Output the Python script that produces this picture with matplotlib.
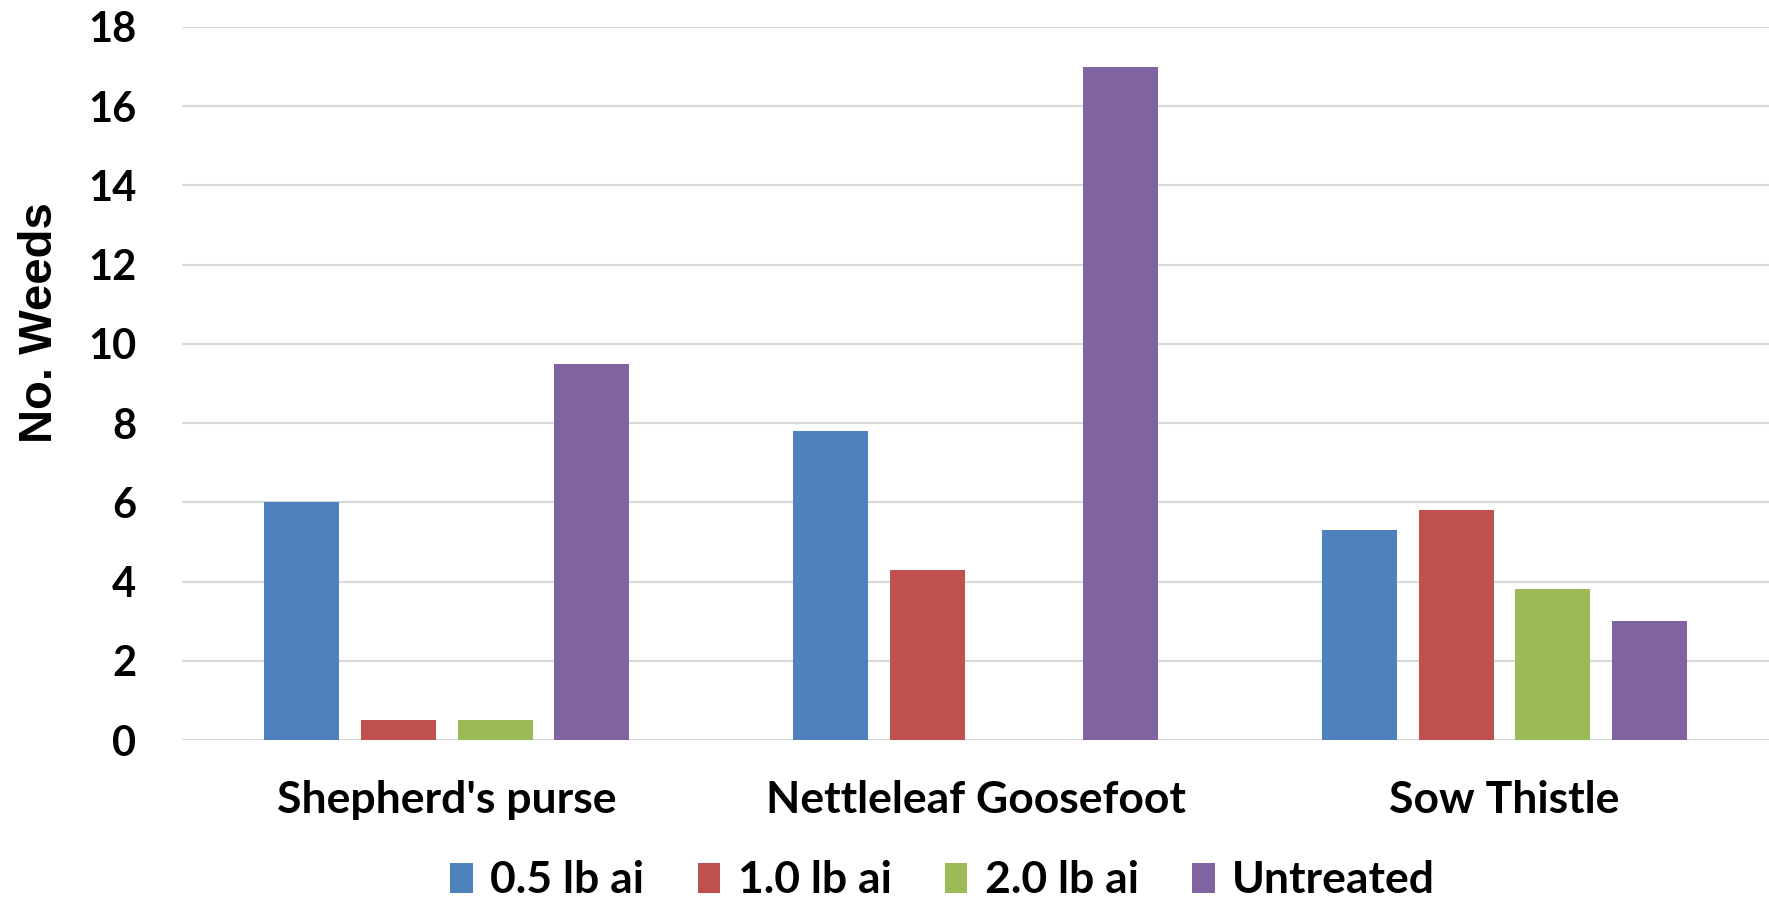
import matplotlib.pyplot as plt
import numpy as np

# Data
categories = ["Shepherd's purse", "Nettleleaf Goosefoot", "Sow Thistle"]
series = ["0.5 lb ai", "1.0 lb ai", "2.0 lb ai", "Untreated"]
rate_05 = [6.0, 7.8, 5.3]
rate_10 = [0.5, 4.3, 5.8]
rate_20 = [0.5, 0.0, 3.8]
untreated = [9.5, 17.0, 3.0]
yticks = [0, 2, 4, 6, 8, 10, 12, 14, 16, 18]

colors = ["#4F81BD", "#C0504D", "#9BBB59", "#8064A2"]
values = [rate_05, rate_10, rate_20, untreated]

fig = plt.figure(figsize=(17.69, 9.02), dpi=100)
ax = fig.add_axes([0.103, 0.1796, 0.897, 0.7905])

x = np.arange(len(categories))
width = 0.142
step = 0.183
for i, (vals, name) in enumerate(zip(values, series)):
    ax.bar(x + (i - 1.5) * step, vals, width, color=colors[i], label=name, zorder=3)

ax.set_xlim(-0.5, 2.5)
ax.set_ylim(0, 18)
ax.set_yticks(yticks)
ax.grid(axis="y", color="#D9D9D9", linewidth=1.5, zorder=0)
for s in ax.spines.values():
    s.set_visible(False)
ax.tick_params(length=0)
ax.tick_params(axis="y", pad=33)
ax.tick_params(axis="x", pad=29)
ax.set_xticks(x, categories)
for lbl in ax.get_yticklabels():
    lbl.set_fontfamily("Lato")
    lbl.set_fontweight("bold")
    lbl.set_fontsize(30)
for lbl in ax.get_xticklabels():
    lbl.set_fontfamily("Lato")
    lbl.set_fontweight("bold")
    lbl.set_fontsize(32)

ax.set_ylabel("No. Weeds", fontfamily="Liberation Sans", fontweight="bold", fontsize=34)
ax.yaxis.set_label_coords(-0.076, 0.585)

fig.legend(loc="center", bbox_to_anchor=(0.533, 0.024), ncol=4, frameon=False,
           prop={"family": "Lato", "weight": "bold", "size": 32},
           handlelength=0.5, handleheight=0.65, handletextpad=0.4, columnspacing=1.2)

plt.savefig("out.png", dpi=100)
